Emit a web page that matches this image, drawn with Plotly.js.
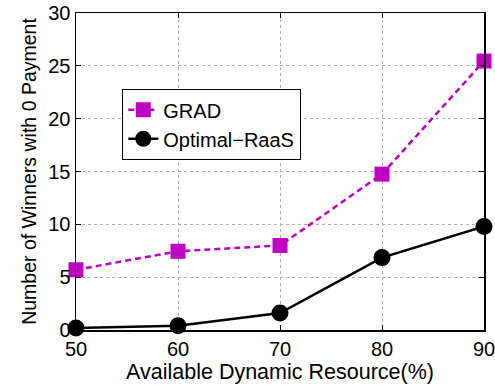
<!DOCTYPE html>
<html>
<head>
<meta charset="utf-8">
<script src="https://cdn.plot.ly/plotly-3.0.1.min.js"></script>
<style>html,body{margin:0;padding:0;background:#fff;}#chart{width:495px;height:392px;}</style>
</head>
<body>
<div id="chart"></div>
<script>
const xValues = [50, 60, 70, 80, 90];
const gradValues = [5.7, 7.45, 8.0, 14.75, 25.45];
const optimalValues = [0.2, 0.4, 1.6, 6.85, 9.8];
const seriesNames = ["GRAD", "Optimal\u2212RaaS"];
const xTicks = [50, 60, 70, 80, 90];
const yTicks = [0, 5, 10, 15, 20, 25, 30];

const font = {family: "Liberation Sans, Arial, sans-serif", size: 20, color: "#000"};

const traces = [
  {x: xValues, y: gradValues, name: seriesNames[0], mode: "lines+markers",
   cliponaxis: false,
   line: {color: "#c000c0", width: 2.5, dash: "6px,4px"},
   marker: {symbol: "square", size: 15, color: "#c000c0"}},
  {x: xValues, y: optimalValues, name: seriesNames[1], mode: "lines+markers",
   cliponaxis: false,
   line: {color: "#000", width: 2.5},
   marker: {symbol: "circle", size: 17, color: "#000"}}
];

const axisCommon = {
  showline: true, linecolor: "#000", linewidth: 1.5, mirror: "ticks",
  ticks: "inside", ticklen: 5, tickcolor: "#000",
  showgrid: true, gridcolor: "#b0b0b0", griddash: "dot", gridwidth: 1,
  zeroline: false, tickfont: font, ticklabeloverflow: "allow"
};

const layout = {
  width: 495, height: 392,
  margin: {l: 76, r: 11, t: 13, b: 62},
  paper_bgcolor: "#fff", plot_bgcolor: "#fff",
  font: font,
  xaxis: Object.assign({}, axisCommon, {
    range: [50, 90], tickvals: xTicks, ticktext: xTicks.map(String),
    title: {text: "Available Dynamic Resource(%)", font: {family: font.family, size: 21.5, color: "#000"}, standoff: 5}
  }),
  yaxis: Object.assign({}, axisCommon, {
    range: [0, 30], tickvals: yTicks, ticktext: yTicks.map(String),
    ticklabelstandoff: 0,
    title: {text: "Number of Winners with 0 Payment", font: {family: font.family, size: 19.5, color: "#000"}, standoff: 6}
  }),
  showlegend: true,
  legend: {x: 0.113, y: 0.76, xanchor: "left", yanchor: "top",
    bgcolor: "#fff", bordercolor: "#000", borderwidth: 1.2,
    font: font, itemwidth: 30, tracegroupgap: 0}
};

Plotly.newPlot("chart", traces, layout, {displayModeBar: false, staticPlot: true});
</script>
</body>
</html>
